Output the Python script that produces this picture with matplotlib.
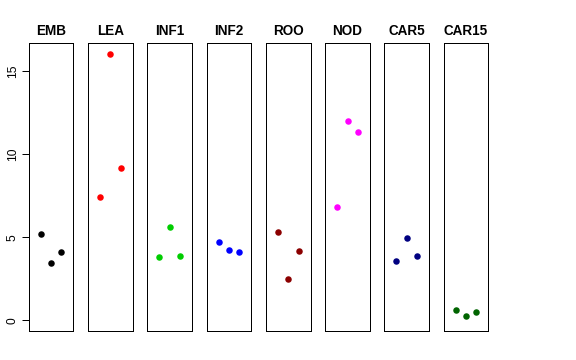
import matplotlib
matplotlib.use("Agg")
import matplotlib.pyplot as plt

plt.rcParams['font.family'] = ['Liberation Sans', 'DejaVu Sans']

groups = ["EMB", "LEA", "INF1", "INF2", "ROO", "NOD", "CAR5", "CAR15"]
colors = ["black", "red", "#00CD00", "blue", "#8B0000", "magenta", "#000080", "#006400"]
emb = [5.22, 3.43, 4.14]
lea = [7.43, 16.04, 9.16]
inf1 = [3.80, 5.60, 3.86]
inf2 = [4.70, 4.24, 4.12]
roo = [5.30, 2.51, 4.18]
nod = [6.83, 12.0, 11.31]
car5 = [3.55, 4.98, 3.86]
car15 = [0.62, 0.28, 0.50]
values = [emb, lea, inf1, inf2, roo, nod, car5, car15]
yticks = [0, 5, 10, 15]

fig = plt.figure(figsize=(8, 5), dpi=72)
W, H = 576, 360
left0 = 28.7
pw = 44.6
step = 59.3
top = 43
bottom = 331
ymax = max(max(v) for v in values)
yr = ymax - 0
ylim = (0 - 0.04 * yr, ymax + 0.04 * yr)
for i, (g, c, v) in enumerate(zip(groups, colors, values)):
    x0 = left0 + i * step
    ax = fig.add_axes([x0 / W, 1 - bottom / H, pw / W, (bottom - top) / H])
    ax.plot([1, 2, 3], v, 'o', color=c, markersize=6.5, markeredgewidth=0)
    ax.set_xlim(-0.16, 4.16)
    ax.set_ylim(*ylim)
    ax.set_xticks([])
    ax.set_title(g, fontsize=13.5, fontweight='bold', pad=8)
    for s in ax.spines.values():
        s.set_linewidth(1.0)
        s.set_color('black')
    if i == 0:
        ax.set_yticks(yticks)
        ax.set_yticklabels([str(t) for t in yticks], rotation=90, va='center', fontsize=12)
        ax.tick_params(axis='y', length=7, width=1, pad=3)
    else:
        ax.set_yticks([])

fig.savefig("out.png", dpi=72)
